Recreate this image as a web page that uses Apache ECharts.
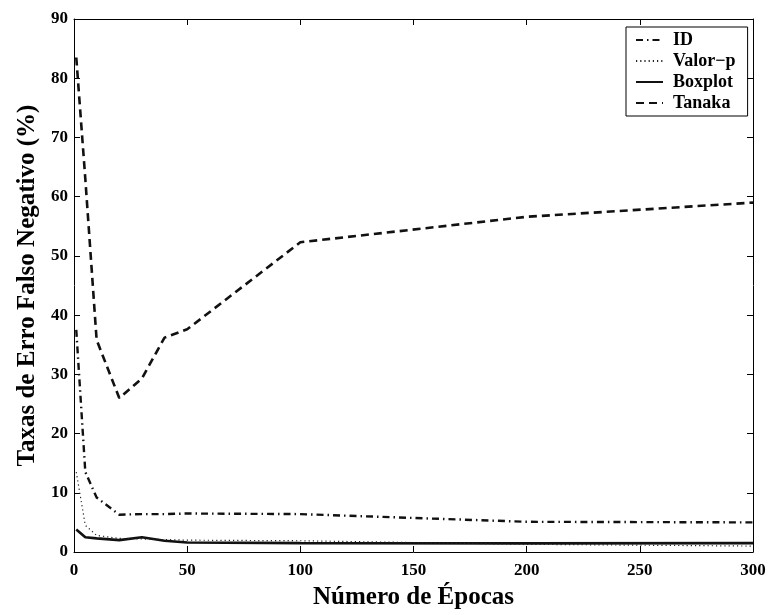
<!DOCTYPE html>
<html>
<head>
<meta charset="utf-8">
<script src="https://cdn.jsdelivr.net/npm/echarts@6/dist/echarts.min.js"></script>
<style>
html,body{margin:0;padding:0;background:#fff;}
#chart{width:770px;height:615px;}
</style>
</head>
<body>
<div id="chart"></div>
<script>
// Data
const epochs   = [1, 5, 10, 20, 30, 40, 50, 100, 200, 300];
const idVals   = [37.5, 13.5, 9.2, 6.3, 6.4, 6.4, 6.5, 6.4, 5.1, 5.0];
const valorP   = [13.5, 4.5, 2.8, 2.3, 2.2, 2.1, 2.0, 1.9, 1.3, 1.0];
const boxplot  = [3.8, 2.5, 2.3, 2.0, 2.5, 1.9, 1.6, 1.5, 1.45, 1.5];
const tanaka   = [83.5, 63.0, 35.8, 26.0, 29.3, 36.2, 37.6, 52.3, 56.6, 59.0];
const seriesNames = ['ID', 'Valor\u2212p', 'Boxplot', 'Tanaka'];
const xName = 'Número de Épocas';
const yName = 'Taxas de Erro Falso Negativo (%)';

const pairs = vals => epochs.map((e, i) => [e, vals[i]]);

const font = 'Liberation Serif, Times New Roman, serif';
const chart = echarts.init(document.getElementById('chart'), null, {renderer: 'canvas'});

const lineStyles = [
  {color: '#111', width: 2.4, type: [7, 4, 1.5, 4]},
  {color: '#222', width: 1.2, type: [1.2, 3]},
  {color: '#111', width: 2.6, type: 'solid'},
  {color: '#111', width: 2.6, type: [8, 5]}
];
const dataSets = [idVals, valorP, boxplot, tanaka];

const baseX = {
  type: 'value', min: 0, max: 300, interval: 50,
  axisLine: {show: true, onZero: false, lineStyle: {color: '#000', width: 1}},
  axisTick: {show: true, inside: true, length: 6, lineStyle: {color: '#000'}},
  splitLine: {show: false}
};
const baseY = {
  type: 'value', min: 0, max: 90, interval: 10,
  axisLine: {show: true, onZero: false, lineStyle: {color: '#000', width: 1}},
  axisTick: {show: true, inside: true, length: 6, lineStyle: {color: '#000'}},
  splitLine: {show: false}
};

chart.setOption({
  animation: false,
  backgroundColor: '#fff',
  grid: {left: 74, right: 17, top: 19, bottom: 61, containLabel: false},
  legend: {
    orient: 'vertical',
    left: 626, top: 27,
    padding: [4, 12, 4, 9],
    itemWidth: 27, itemHeight: 14, itemGap: 3,
    borderColor: '#000', borderWidth: 1, backgroundColor: '#fff',
    itemStyle: {color: 'rgba(0,0,0,0)', borderWidth: 0, opacity: 0},
    textStyle: {fontFamily: font, fontWeight: 'bold', fontSize: 18, color: '#000', lineHeight: 18, padding: [0, 0, 0, 5]},
    data: seriesNames
  },
  xAxis: [
    Object.assign({}, baseX, {
      position: 'bottom',
      name: xName, nameLocation: 'middle', nameGap: 33,
      nameTextStyle: {fontFamily: font, fontWeight: 'bold', fontSize: 25, color: '#000'},
      axisLabel: {fontFamily: font, fontWeight: 'bold', fontSize: 17, color: '#000', margin: 10}
    }),
    Object.assign({}, baseX, {position: 'top', axisLabel: {show: false}})
  ],
  yAxis: [
    Object.assign({}, baseY, {
      position: 'left',
      name: yName, nameLocation: 'middle', nameGap: 32,
      nameTextStyle: {fontFamily: font, fontWeight: 'bold', fontSize: 25, color: '#000'},
      axisLabel: {fontFamily: font, fontWeight: 'bold', fontSize: 17, color: '#000', margin: 6}
    }),
    Object.assign({}, baseY, {position: 'right', axisLabel: {show: false}})
  ],
  series: seriesNames.map((n, i) => ({
    name: n, type: 'line', xAxisIndex: 0, yAxisIndex: 0,
    data: pairs(dataSets[i]),
    symbol: 'none', showSymbol: false,
    lineStyle: lineStyles[i],
    itemStyle: {color: lineStyles[i].color},
    z: 4 - i
  }))
});
</script>
</body>
</html>
